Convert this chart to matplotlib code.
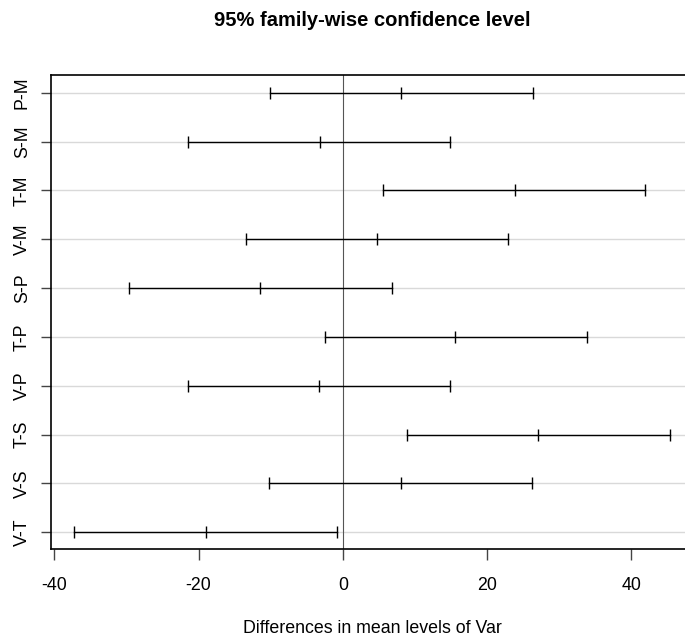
import numpy as np
import matplotlib
matplotlib.use('Agg')
import matplotlib.pyplot as plt

plt.rcParams['font.family'] = ['Liberation Sans', 'DejaVu Sans']
plt.rcParams['axes.unicode_minus'] = False

# Tukey HSD comparisons (top to bottom)
pairs = ['P-M', 'S-M', 'T-M', 'V-M', 'S-P', 'T-P', 'V-P', 'T-S', 'V-S', 'V-T']
diff = [8.1, -3.2, 23.9, 4.8, -11.45, 15.6, -3.3, 27.1, 8.0, -19.0]
lwr = [-10.1, -21.5, 5.6, -13.4, -29.6, -2.5, -21.5, 8.9, -10.2, -37.3]
upr = [26.3, 14.85, 41.9, 22.9, 6.85, 33.9, 14.85, 45.3, 26.2, -0.85]

fig = plt.figure(figsize=(6.85, 6.37), dpi=100)
ax = fig.add_axes([51/685, (637-549.3)/637, 642/685, (549.3-75)/637])

n = len(pairs)
ypos = np.arange(n, 0, -1)

# light grid lines at each comparison
for y in ypos:
    ax.axhline(y, color='#d9d9d9', lw=1.0, zorder=1)

ax.axvline(0, color='#555555', lw=0.8, zorder=2)

for y, lo, mid, hi in zip(ypos, lwr, diff, upr):
    ax.plot([lo, hi], [y, y], color='black', lw=1.0, zorder=3)
    ax.plot([lo, mid, hi], [y, y, y], ls='none', marker='|', ms=9,
            mew=1.0, color='black', zorder=3)

ax.set_xlim(-40.46, 48.55)
ax.set_ylim(0.652, 10.362)

ax.set_xticks([-40, -20, 0, 20, 40])
ax.set_yticks(ypos)
ax.set_yticklabels(pairs, rotation=90, va='center')

ax.tick_params(axis='x', length=8, width=1, color='#444444', pad=12, labelsize=12.8)
ax.tick_params(axis='y', length=7.5, width=1, color='#444444', pad=7, labelsize=12.8)

for side in ['left', 'top', 'bottom', 'right']:
    ax.spines[side].set_linewidth(1.2)
    ax.spines[side].set_color('black')

ax.set_xlabel('Differences in mean levels of Var', fontsize=12.8, labelpad=19)
fig.suptitle('95% family-wise confidence level', fontsize=14.5, fontweight='bold',
             x=372/685, y=1 - 11/637, va='top')

fig.savefig('out.png', dpi=100)
